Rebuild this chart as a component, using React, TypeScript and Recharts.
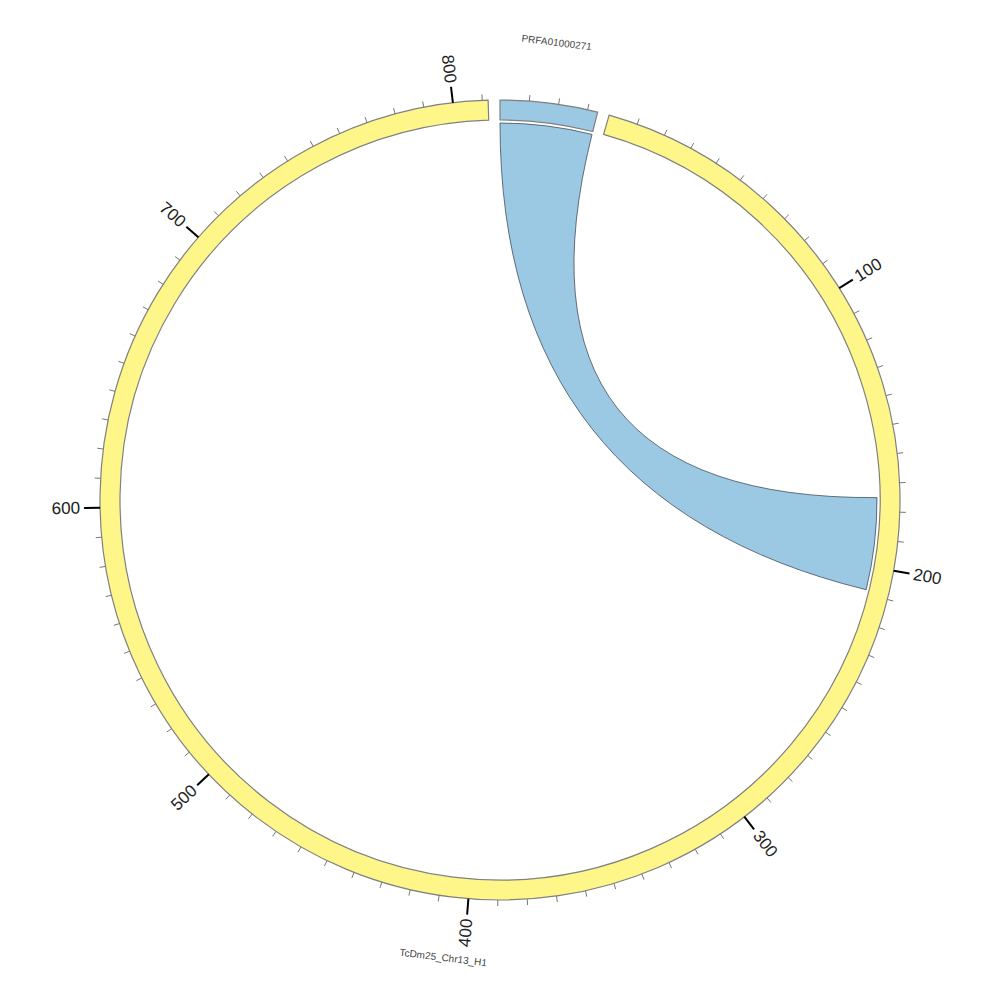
import React from "react";
import { PieChart, Pie, Cell } from "recharts";

// ideogram segments (length in kb)
const segmentNames = ["PRFA01000271", "TcDm25_Chr13_H1"];
const segmentLengths = [33.5, 812];

// one link: segment index, start, end (kb)
const linkSegments = [0, 1];
const linkStarts = [0, 175];
const linkEnds = [33.5, 208.5];

const minorStep = 10;
const majorStep = 100;

const data = segmentNames.map((name, i) => ({ name, value: segmentLengths[i] }));

const COLORS = ["#9bc8e2", "#fff68a"];
const START_ANGLE = 90;
const PAD = 1.7;
const RAD = Math.PI / 180;

const polar = (cx: number, cy: number, r: number, deg: number) => ({
  x: cx + r * Math.cos(-deg * RAD),
  y: cy + r * Math.sin(-deg * RAD),
});

// recharts angle -> compass angle (0 = top, clockwise)
const compass = (deg: number) => (((90 - deg) % 360) + 360) % 360;

function SegmentDecor(props: any) {
  const { cx, cy, startAngle, endAngle, value, outerRadius, index } = props;
  const unit = (endAngle - startAngle) / value;
  const at = (pos: number) => startAngle + unit * pos;

  const items: React.ReactNode[] = [];
  const n = Math.floor(value / minorStep);
  for (let k = 1; k <= n; k++) {
    const pos = k * minorStep;
    const deg = at(pos);
    const major = pos % majorStep === 0;
    const p1 = polar(cx, cy, outerRadius, deg);
    const p2 = polar(cx, cy, outerRadius + (major ? 16 : 6), deg);
    items.push(
      <line key={"t" + k} x1={p1.x} y1={p1.y} x2={p2.x} y2={p2.y}
        stroke={major ? "#000" : "#777"} strokeWidth={major ? 2 : 1} />
    );
    if (major) {
      const a = compass(deg);
      const lp = polar(cx, cy, outerRadius + 20, deg);
      const right = a < 180;
      items.push(
        <text key={"l" + k} x={lp.x} y={lp.y} fontSize={17} fill="#222"
          textAnchor={right ? "start" : "end"} dominantBaseline="central"
          transform={`rotate(${right ? a - 90 : a - 270}, ${lp.x}, ${lp.y})`}>
          {pos}
        </text>
      );
    }
  }

  // segment name
  const mid = (startAngle + endAngle) / 2;
  const am = compass(mid);
  const np = polar(cx, cy, outerRadius + 61, mid);
  const flip = am > 90 && am < 270;
  items.push(
    <text key="name" x={np.x} y={np.y} fontSize={10} fill="#444"
      textAnchor="middle" dominantBaseline="central"
      transform={`rotate(${flip ? am - 180 : am}, ${np.x}, ${np.y})`}>
      {segmentNames[index]}
    </text>
  );

  // link ribbon, drawn once with the last segment
  if (index === segmentLengths.length - 1) {
    const segStart: number[] = [];
    segmentLengths.forEach((len, i) => {
      segStart.push(i === 0 ? START_ANGLE : segStart[i - 1] + unit * segmentLengths[i - 1] - PAD);
    });
    const ang = (s: number, pos: number) => segStart[s] + unit * pos;
    const r = outerRadius - 23;
    const a0 = polar(cx, cy, r, ang(linkSegments[0], linkStarts[0]));
    const a1 = polar(cx, cy, r, ang(linkSegments[0], linkEnds[0]));
    const b0 = polar(cx, cy, r, ang(linkSegments[1], linkStarts[1]));
    const b1 = polar(cx, cy, r, ang(linkSegments[1], linkEnds[1]));
    const d = `M${a0.x},${a0.y} A${r},${r} 0 0 1 ${a1.x},${a1.y} Q${cx},${cy} ${b0.x},${b0.y} A${r},${r} 0 0 1 ${b1.x},${b1.y} Q${cx},${cy} ${a0.x},${a0.y} Z`;
    items.push(<path key="link" d={d} fill={COLORS[0]} stroke="#2e3a46" strokeWidth={0.7} />);
  }

  return <g>{items}</g>;
}

export default function App() {
  return (
    <div style={{ position: "absolute", left: 0, top: 0, fontFamily: "'Liberation Sans', Arial, sans-serif" }}>
      <PieChart width={1000} height={1000} margin={{ top: 0, right: 0, bottom: 0, left: 0 }}>
        <Pie
          data={data}
          dataKey="value"
          nameKey="name"
          cx={500}
          cy={500}
          innerRadius={380}
          outerRadius={400}
          startAngle={START_ANGLE}
          endAngle={START_ANGLE - 360}
          paddingAngle={PAD}
          label={SegmentDecor}
          labelLine={false}
          isAnimationActive={false}
        >
          {data.map((d, i) => (
            <Cell key={d.name} fill={COLORS[i]} stroke="#808080" strokeWidth={1.2} />
          ))}
        </Pie>
      </PieChart>
    </div>
  );
}
